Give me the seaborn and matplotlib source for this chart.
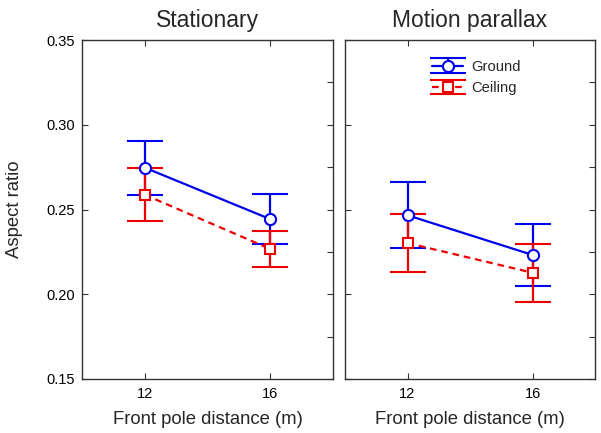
import matplotlib
matplotlib.use("Agg")
import matplotlib.pyplot as plt
from matplotlib.ticker import MultipleLocator
import seaborn as sns
import numpy as np

distances = [12, 16]
panels = ["Stationary", "Motion parallax"]
series = ["Ground", "Ceiling"]

stat_ground = [0.2747, 0.2443]
stat_ground_err = [0.0160, 0.0147]
stat_ceiling = [0.2587, 0.2267]
stat_ceiling_err = [0.0157, 0.0107]

mp_ground = [0.2466, 0.2232]
mp_ground_err = [0.0194, 0.0185]
mp_ceiling = [0.2302, 0.2127]
mp_ceiling_err = [0.0170, 0.0172]

yticks = [0.15, 0.20, 0.25, 0.30, 0.35]
ytick_labels = ["0.15", "0.20", "0.25", "0.30", "0.35"]

sns.set_style("ticks")
plt.rcParams["font.family"] = ["Liberation Sans", "DejaVu Sans"]

fig = plt.figure(figsize=(6.01, 4.33), dpi=100)
ax1 = fig.add_axes([82/601, 54/433, 251/601, 339/433])
ax2 = fig.add_axes([345/601, 54/433, 250/601, 339/433])

data = {
    "Stationary": [(stat_ground, stat_ground_err), (stat_ceiling, stat_ceiling_err)],
    "Motion parallax": [(mp_ground, mp_ground_err), (mp_ceiling, mp_ceiling_err)],
}
styles = {
    "Ground": dict(color="#0000ee", marker="o", ls="-", ms=8),
    "Ceiling": dict(color="#ee0000", marker="s", ls="--", ms=7.5),
}

for ax, panel in zip([ax1, ax2], panels):
    for name, (vals, errs) in zip(series, data[panel]):
        st = styles[name]
        eb = ax.errorbar(distances, vals, yerr=errs, color=st["color"], marker=st["marker"],
                         ms=st["ms"], mfc="white", mec=st["color"], mew=1.5,
                         lw=1.6, capsize=13, capthick=1.6, elinewidth=1.6, label=name)
        eb[-1][0].set_linestyle("-")
        if st["ls"] == "--":
            eb[0].set_dashes([3.0, 2.2])
    ax.set_xlim(10, 18)
    ax.set_ylim(0.15, 0.35)
    ax.set_xticks(distances)
    ax.set_xticklabels([str(d) for d in distances], fontsize=10.5)
    ax.set_yticks(yticks)
    ax.yaxis.set_minor_locator(MultipleLocator(0.025))
    ax.tick_params(which="major", direction="in", top=True, right=True, length=4, width=0.8,
                   colors="#333333", labelcolor="black")
    ax.tick_params(axis="x", pad=6)
    ax.tick_params(axis="y", pad=5)
    ax.tick_params(which="minor", direction="in", left=False, right=True, length=4, width=0.8,
                   colors="#333333")
    for s in ax.spines.values():
        s.set_visible(True)
        s.set_color("#333333")
        s.set_linewidth(1.0)
    ax.set_title(panel, fontsize=16.5, pad=9)
    ax.set_xlabel("Front pole distance (m)", fontsize=13.3, labelpad=7)

ax1.set_yticklabels(ytick_labels, fontsize=10.5)
ax1.set_ylabel("Aspect ratio", fontsize=13.3, labelpad=17)
ax2.set_yticklabels([])

leg = ax2.legend(loc="upper left", bbox_to_anchor=(0.29, 0.985), frameon=False, fontsize=10.6,
                 handlelength=2.1, handletextpad=0.55, labelspacing=0.5, borderaxespad=0.6)

fig.savefig("out.png", dpi=100)
